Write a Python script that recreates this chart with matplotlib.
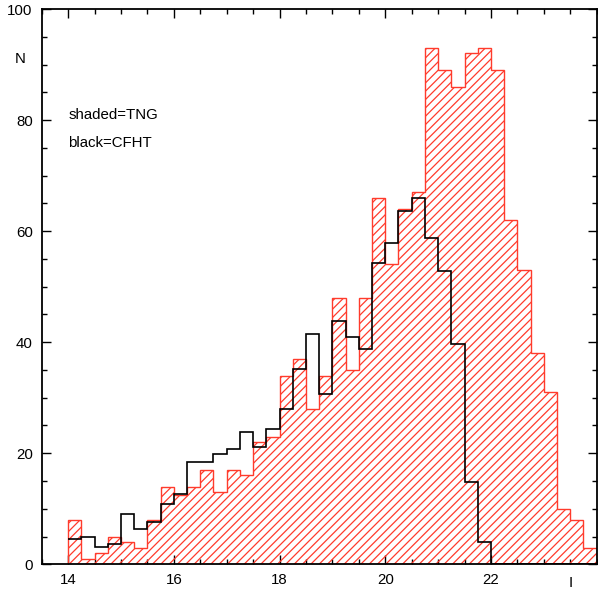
import numpy as np
import matplotlib
matplotlib.use("Agg")
import matplotlib.pyplot as plt
from matplotlib.ticker import MultipleLocator

plt.rcParams['font.family'] = ['Liberation Sans', 'DejaVu Sans']
plt.rcParams['hatch.linewidth'] = 0.9

# bins of 0.25 mag starting at I = 14
bin_lo = 14.0
bin_w = 0.25
# TNG counts (red hatched)
tng = [8, 1, 2, 5, 4, 3, 8, 14,
       12.4, 14, 17, 13, 17, 16, 22, 23,
       34, 37, 28, 34, 48, 35, 48, 66,
       54, 64, 67, 93, 89, 86, 92, 93,
       89, 62, 53, 38, 31, 10, 8, 3]
# CFHT counts (black line)
cfht = [4.6, 5.0, 3.2, 3.6, 9.0, 6.3, 7.7, 10.8,
        12.6, 18.5, 18.5, 19.8, 20.7, 23.8, 21.2, 24.3,
        27.9, 35.2, 41.4, 30.7, 43.8, 41.0, 38.8, 54.2,
        57.8, 63.7, 65.9, 58.7, 52.9, 39.7, 14.9, 4.1,
        0, 0, 0, 0, 0, 0, 0, 0]
xticks = [14, 16, 18, 20, 22]
yticks = [0, 20, 40, 60, 80, 100]

edges = bin_lo + bin_w * np.arange(len(tng) + 1)

fig = plt.figure(figsize=(5.98, 5.89), dpi=100)
ax = fig.add_axes([0.0697, 0.0419, 0.9281, 0.9428])

red = '#ff3b2c'
ax.stairs(tng, edges, fill=True, facecolor='none', edgecolor=red,
          hatch='////', linewidth=1.0, zorder=2)
ax.stairs(cfht, edges, baseline=None, color='black', linewidth=1.2, zorder=3)

fs = 10.8
ax.set_xlim(13.5, 24.0)
ax.set_ylim(0, 100)
ax.set_xticks(xticks)
ax.set_yticks(yticks)
ax.xaxis.set_minor_locator(MultipleLocator(0.5))
ax.yaxis.set_minor_locator(MultipleLocator(5))
ax.tick_params(which='both', direction='in', top=True, right=True, labelsize=fs)
ax.tick_params(which='major', length=6.5, width=1.0)
ax.tick_params(which='minor', length=3.3, width=1.0)
ax.tick_params(axis='x', pad=6.5)
ax.tick_params(axis='y', pad=6.5)
for s in ax.spines.values():
    s.set_linewidth(1.3)

ax.text(13.1, 91, 'N', ha='center', va='center', fontsize=fs, clip_on=False)
ax.text(23.5, -4.15, 'I', ha='center', va='baseline', fontsize=fs, clip_on=False)
ax.text(14.0, 80.9, 'shaded=TNG', ha='left', va='center', fontsize=fs)
ax.text(14.0, 75.8, 'black=CFHT', ha='left', va='center', fontsize=fs)

fig.savefig('out.png', dpi=100)
